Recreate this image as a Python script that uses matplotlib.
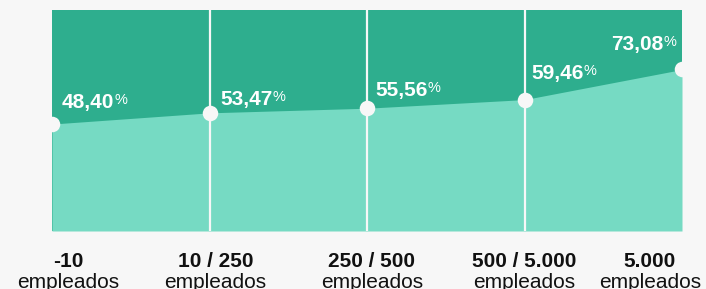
import matplotlib
matplotlib.use("Agg")
import matplotlib.pyplot as plt

# --- data ---
categories_top = ["-10", "10 / 250", "250 / 500", "500 / 5.000", "5.000"]
categories_bottom = ["empleados"] * 5
values = [48.40, 53.47, 55.56, 59.46, 73.08]
value_labels = ["48,40", "53,47", "55,56", "59,46", "73,08"]

# --- layout (pixel offsets for labels) ---
label_dx = [10, 11, 8, 7, -6]
label_dy = [16, 8, 12, 21, 19]
label_ha = ["left", "left", "left", "left", "right"]
tick_dx = [16, 6, 5, 0, -32]

DARK = "#2eae8e"
LIGHT = "#76dac3"
BG = "#f7f7f7"

plt.rcParams["font.family"] = ["Liberation Sans", "DejaVu Sans"]

W, H = 706, 289
fig = plt.figure(figsize=(W / 100, H / 100), dpi=100, facecolor=BG)
ax = fig.add_axes([52 / W, (H - 231) / H, (682 - 52) / W, (231 - 10) / H])
ax.set_facecolor(DARK)

x = list(range(len(values)))
ax.fill_between(x, values, 0, color=LIGHT, lw=0, zorder=1)
for xi in x[1:-1]:
    ax.axvline(xi, color=BG, lw=1.6, zorder=2)
ax.scatter(x, values, s=125, color=BG, zorder=3, clip_on=False, lw=0)

ax.set_xlim(0, len(values) - 1)
ax.set_ylim(0, 100)
for s in ax.spines.values():
    s.set_visible(False)
ax.set_xticks([])
ax.set_yticks([])

# value labels with small superscript %
for xi, v, lab, dx, dy, ha in zip(x, values, value_labels, label_dx, label_dy, label_ha):
    if ha == "right":
        pct = ax.annotate("%", (xi, v), xytext=(dx, dy + 15), textcoords="offset pixels",
                          ha="right", va="top", color="white", fontsize=10.5,
                          zorder=5, annotation_clip=False)
        ax.annotate(lab, (0, 1), xycoords=pct, xytext=(0, 0), textcoords="offset pixels",
                    ha="right", va="top", color="white", fontsize=15,
                    fontweight="bold", zorder=5, annotation_clip=False)
    else:
        num = ax.annotate(lab, (xi, v), xytext=(dx, dy), textcoords="offset pixels",
                          ha="left", va="baseline", color="white", fontsize=15,
                          fontweight="bold", zorder=5, annotation_clip=False)
        ax.annotate("%", (1, 1), xycoords=num, xytext=(0, 0), textcoords="offset pixels",
                    ha="left", va="top", color="white", fontsize=10.5,
                    zorder=5, annotation_clip=False)

# category labels under the axis
for xi, top, bot, dx in zip(x, categories_top, categories_bottom, tick_dx):
    ax.annotate(top, (xi, 0), xytext=(dx, -36), textcoords="offset pixels",
                ha="center", va="baseline", fontsize=15, fontweight="bold",
                color="#111111", annotation_clip=False)
    ax.annotate(bot, (xi, 0), xytext=(dx, -57), textcoords="offset pixels",
                ha="center", va="baseline", fontsize=15, color="#111111",
                annotation_clip=False)

fig.savefig("out.png", dpi=100, facecolor=BG)
